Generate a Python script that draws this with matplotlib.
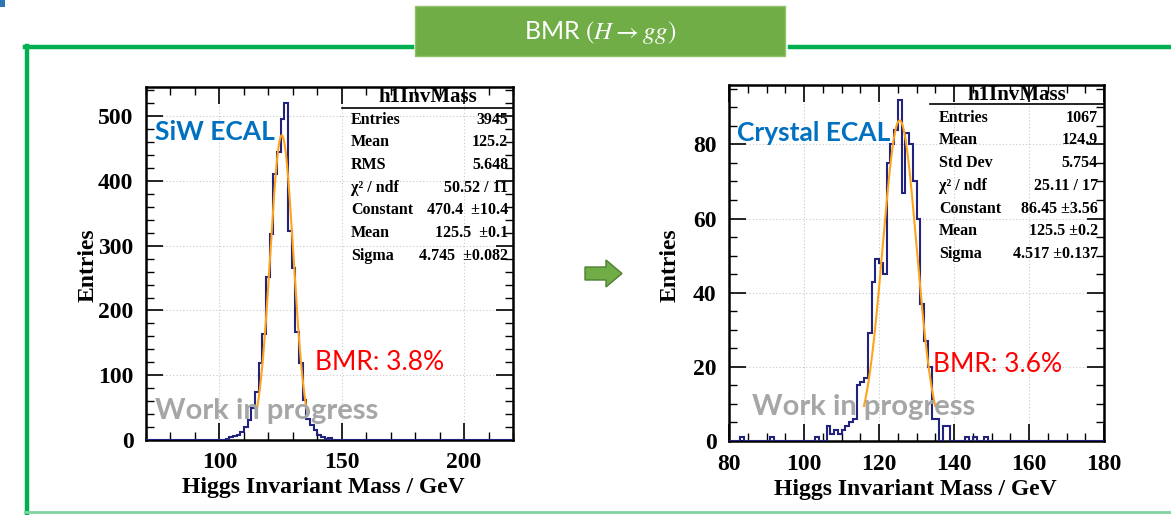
import numpy as np
import matplotlib
matplotlib.use("Agg")
import matplotlib.pyplot as plt
from matplotlib.patches import Rectangle, Polygon
from matplotlib.lines import Line2D
from matplotlib.ticker import MultipleLocator

# ---------------- data ----------------
# SiW ECAL: 1.5 GeV bins, counts listed from the first non-empty bin
siw_xlim = (70, 220)
siw_ylim = (0, 545)
siw_bin_width = 1.5
siw_first_edge = 102.5
siw_counts = [2, 4, 6, 8, 13, 20, 31, 50, 74, 119, 164, 251, 318, 410, 445, 496, 520,
              322, 265, 167, 119, 61, 33, 23, 15, 8, 4, 2, 3]
siw_fit_const, siw_fit_mean, siw_fit_sigma = 470.4, 125.5, 4.745
siw_fit_range = (115.0, 136.0)
siw_stat_names = ["Entries", "Mean", "RMS", "χ² / ndf", "Constant", "Mean", "Sigma"]
siw_stat_values = ["3945", "125.2", "5.648", "50.52 / 11", "470.4  ±10.4", "125.5  ±0.1", "4.745  ±0.082"]
siw_bmr = "BMR: 3.8%"

# Crystal ECAL: 1 GeV bins, counts listed from the first non-empty bin
crys_xlim = (80, 180)
crys_ylim = (0, 96)
crys_bin_width = 1.0
crys_first_edge = 83
crys_counts = [1, 0, 0, 0, 0, 0, 0, 0, 1, 0, 0, 0, 0, 0, 0, 0, 0, 0, 0, 0, 1, 0, 0,
               4, 2, 3, 2, 3, 4, 5, 6,
               15, 16, 17, 29, 43, 49, 48, 45,
               75, 80, 84, 92, 67,
               83, 80, 70, 60, 37, 27, 20,
               6, 6, 0, 4, 4, 0, 0, 0, 0, 1, 0, 1, 0, 0, 1]
crys_fit_const, crys_fit_mean, crys_fit_sigma = 86.45, 125.5, 4.517
crys_fit_range = (116.0, 135.0)
crys_stat_names = ["Entries", "Mean", "Std Dev", "χ² / ndf", "Constant", "Mean", "Sigma"]
crys_stat_values = ["1067", "124.9", "5.754", "25.11 / 17", "86.45 ±3.56", "125.5 ±0.2", "4.517 ±0.137"]
crys_bmr = "BMR: 3.6%"

# ---------------- figure ----------------
W, H = 1171, 515
plt.rcParams["font.family"] = ["Liberation Serif", "DejaVu Serif"]
plt.rcParams["mathtext.fontset"] = "stix"
fig = plt.figure(figsize=(W / 100, H / 100), dpi=100)
fig.patch.set_facecolor("white")


def fx(x):
    return x / W


def fy(y):
    return 1 - y / H


HIST_COLOR = "#22227f"
FIT_COLOR = "#ffa319"
SANS = ["Lato", "DejaVu Sans"]
SERIF = ["Liberation Serif", "DejaVu Serif"]

# slide frame and banner
frame_green = "#00b050"
fig.add_artist(Line2D([fx(25), fx(412)], [fy(47), fy(47)], color=frame_green, lw=3.2, transform=fig.transFigure))
fig.add_artist(Line2D([fx(790), fx(1171)], [fy(47), fy(47)], color=frame_green, lw=3.2, transform=fig.transFigure))
fig.add_artist(Line2D([fx(26.5), fx(26.5)], [fy(46), fy(515)], color=frame_green, lw=3.2, transform=fig.transFigure))
fig.add_artist(Line2D([fx(25), fx(1171)], [fy(512), fy(512)], color="#7fd4a0", lw=2.0, transform=fig.transFigure))
fig.add_artist(Rectangle((fx(415), fy(56)), fx(785) - fx(415), fy(6) - fy(56), facecolor="#70ad47",
                         edgecolor="#8fc36a", lw=1.0, transform=fig.transFigure))
fig.text(fx(600), fy(32), r"BMR $(H \rightarrow gg)$", color="white", fontsize=18, fontweight="normal",
         family=SANS, ha="center", va="center")
fig.add_artist(Rectangle((fx(0), fy(7)), fx(5), fy(0) - fy(7), facecolor="#2e75b6", edgecolor="none",
                         transform=fig.transFigure))

# arrow between the panels
arrow_pts = [(585, 267), (606, 267), (606, 260), (622, 273.5), (606, 287), (606, 280), (585, 280)]
fig.add_artist(Polygon([(fx(x), fy(y)) for x, y in arrow_pts], closed=True, facecolor="#70ad47",
                       edgecolor="#4f7f31", lw=1.0, transform=fig.transFigure))


def padded_hist(first_edge, width, counts, xlim):
    n_left = int(np.ceil((first_edge - xlim[0]) / width)) + 1
    n_right = int(np.ceil((xlim[1] - (first_edge + width * len(counts))) / width)) + 1
    start = first_edge - n_left * width
    values = np.concatenate([np.zeros(n_left), np.asarray(counts, float), np.zeros(n_right)])
    edges = start + width * np.arange(len(values) + 1)
    return values, edges


def draw_panel(box, xlim, ylim, xmaj, xmin, ymaj, ymin, first_edge, width, counts,
               const, mean, sigma, fit_range):
    left, top, right, bottom = box
    ax = fig.add_axes([fx(left), fy(bottom), fx(right) - fx(left), fy(top) - fy(bottom)])
    values, edges = padded_hist(first_edge, width, counts, xlim)
    ax.stairs(values, edges, color=HIST_COLOR, lw=1.5, baseline=None, zorder=3)
    xs = np.linspace(fit_range[0], fit_range[1], 300)
    ax.plot(xs, const * np.exp(-0.5 * ((xs - mean) / sigma) ** 2), color=FIT_COLOR, lw=1.5, zorder=4)
    ax.set_xlim(*xlim)
    ax.set_ylim(*ylim)
    ax.xaxis.set_major_locator(MultipleLocator(xmaj))
    ax.xaxis.set_minor_locator(MultipleLocator(xmin))
    ax.yaxis.set_major_locator(MultipleLocator(ymaj))
    ax.yaxis.set_minor_locator(MultipleLocator(ymin))
    ax.tick_params(which="both", direction="in", top=True, right=True, colors="black")
    ax.tick_params(which="major", length=12, width=1.2, labelsize=17, pad=9)
    ax.tick_params(which="minor", length=6, width=1.0)
    for axis in (ax.xaxis, ax.yaxis):
        for t in axis.get_major_ticks():
            t.label1.set_fontweight("bold")
            t.label1.set_family(SERIF)
    for s in ax.spines.values():
        s.set_linewidth(1.8)
    ax.grid(True, which="major", color="#c8c8c8", linestyle=(0, (1, 2)), lw=0.8)
    ax.set_axisbelow(True)
    return ax


ax1 = draw_panel((146, 87, 513, 440), siw_xlim, siw_ylim, 50, 10, 100, 20,
                 siw_first_edge, siw_bin_width, siw_counts,
                 siw_fit_const, siw_fit_mean, siw_fit_sigma, siw_fit_range)
ax2 = draw_panel((729, 85, 1104, 441), crys_xlim, crys_ylim, 20, 5, 20, 5,
                 crys_first_edge, crys_bin_width, crys_counts,
                 crys_fit_const, crys_fit_mean, crys_fit_sigma, crys_fit_range)

# axis titles
for cx, cy in [(323, 487), (915, 490)]:
    fig.text(fx(cx), fy(cy), "Higgs Invariant Mass / GeV", fontsize=17, fontweight="bold",
             ha="center", va="center", family=SERIF)
for cx, cy in [(88, 265), (670, 265)]:
    fig.text(fx(cx), fy(cy), "Entries", fontsize=17, fontweight="bold", rotation=90,
             ha="center", va="center", family=SERIF)


def stat_box(x0, x1, title_y, line_y, row_y0, row_step, names, values, label_x, value_x):
    fig.text(fx((x0 + x1) / 2), fy(title_y), "h1InvMass", fontsize=15, fontweight="bold",
             ha="center", va="center", family=SERIF)
    fig.add_artist(Line2D([fx(x0), fx(x1)], [fy(line_y), fy(line_y)], color="black", lw=1.2,
                          transform=fig.transFigure))
    for i, (n, v) in enumerate(zip(names, values)):
        y = row_y0 + i * row_step
        fig.text(fx(label_x), fy(y), n, fontsize=11.5, fontweight="bold", ha="left", va="center", family=SERIF)
        fig.text(fx(value_x), fy(y), v, fontsize=11.5, fontweight="bold", ha="right", va="center", family=SERIF)


stat_box(342, 513, 97, 108, 119.5, 22.7, siw_stat_names, siw_stat_values, 351, 508)
stat_box(930, 1104, 95, 104, 117.5, 22.8, crys_stat_names, crys_stat_values, 939, 1098)

# annotations
fig.text(fx(155), fy(132), "SiW ECAL", color="#0070c0", fontsize=19, fontweight="bold", family=SANS,
         ha="left", va="center")
fig.text(fx(737), fy(133), "Crystal ECAL", color="#0070c0", fontsize=19, fontweight="bold", family=SANS,
         ha="left", va="center")
fig.text(fx(315), fy(363), siw_bmr, color="#ff0000", fontsize=19, fontweight="normal", family=SANS,
         ha="left", va="center")
fig.text(fx(933), fy(365), crys_bmr, color="#ff0000", fontsize=19, fontweight="normal", family=SANS,
         ha="left", va="center")
fig.text(fx(155), fy(411), "Work in progress", color="#a6a6a6", fontsize=21, fontweight="bold", family=SANS,
         ha="left", va="center")
fig.text(fx(752), fy(407), "Work in progress", color="#a6a6a6", fontsize=21, fontweight="bold", family=SANS,
         ha="left", va="center")

fig.savefig("out.png", dpi=100)
